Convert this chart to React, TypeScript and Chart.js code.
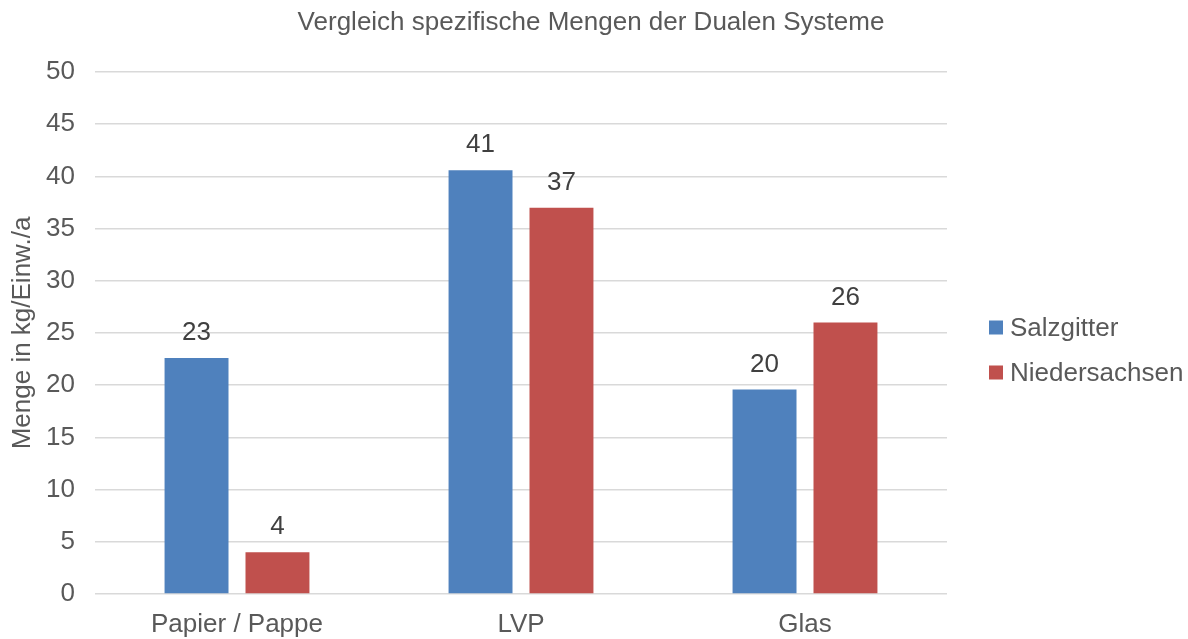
import React, { useEffect, useRef } from "react";
import { Chart, registerables } from "chart.js";

Chart.register(...registerables);

const titleText = "Vergleich spezifische Mengen der Dualen Systeme";
const categories = ["Papier / Pappe", "LVP", "Glas"];
const salzgitter = [22.6, 40.6, 19.6];
const niedersachsen = [4.0, 37.0, 26.0];
const yTicks = [0, 5, 10, 15, 20, 25, 30, 35, 40, 45, 50];

const FONT = "'Liberation Sans', Arial, sans-serif";

const dataLabelPlugin = {
  id: "dataLabels",
  afterDatasetsDraw(chart: any) {
    const ctx = chart.ctx;
    ctx.save();
    ctx.font = `26px ${FONT}`;
    ctx.fillStyle = "#404040";
    ctx.textAlign = "center";
    ctx.textBaseline = "middle";
    chart.data.datasets.forEach((ds: any, i: number) => {
      const meta = chart.getDatasetMeta(i);
      meta.data.forEach((bar: any, j: number) => {
        const v = ds.data[j] as number;
        ctx.fillText(String(Math.round(v)), bar.x, bar.y - 25);
      });
    });
    ctx.restore();
  },
};

const customLegendPlugin = {
  id: "customLegend",
  afterDraw(chart: any) {
    const ctx = chart.ctx;
    const area = chart.chartArea;
    // title across the full canvas width
    ctx.save();
    ctx.font = `26px ${FONT}`;
    ctx.fillStyle = "#595959";
    ctx.textAlign = "center";
    ctx.textBaseline = "middle";
    ctx.fillText(titleText, chart.width / 2 - 3, 23);
    // legend
    const boxX = area.right + 42;
    const textX = boxX + 21;
    const centerY = (area.top + area.bottom) / 2 + 17;
    const spacing = 45;
    const n = chart.data.datasets.length;
    ctx.textAlign = "left";
    chart.data.datasets.forEach((ds: any, i: number) => {
      const y = centerY + (i - (n - 1) / 2) * spacing;
      ctx.fillStyle = ds.backgroundColor;
      ctx.fillRect(boxX, y - 7, 14, 14);
      ctx.fillStyle = "#595959";
      ctx.fillText(ds.label, textX, y + 1);
    });
    ctx.restore();
  },
};

export default function App() {
  const ref = useRef<HTMLCanvasElement>(null);
  useEffect(() => {
    document.body.style.margin = "0";
    const chart = new Chart(ref.current!, {
      type: "bar",
      data: {
        labels: categories,
        datasets: [
          {
            label: "Salzgitter",
            data: salzgitter,
            backgroundColor: "#4F81BD",
            categoryPercentage: 0.57,
            barPercentage: 0.79,
          },
          {
            label: "Niedersachsen",
            data: niedersachsen,
            backgroundColor: "#C0504D",
            categoryPercentage: 0.57,
            barPercentage: 0.79,
          },
        ],
      },
      options: {
        animation: false,
        responsive: false,
        layout: { padding: { right: 241, left: 0, top: 72, bottom: 0 } },
        plugins: {
          title: { display: false },
          legend: { display: false },
          tooltip: { enabled: false },
        },
        scales: {
          x: {
            afterFit(scale: any) {
              scale.height = 45;
            },
            grid: { display: false, drawTicks: false },
            border: { display: false },
            ticks: {
              color: "#595959",
              font: { family: FONT, size: 26 },
              padding: 15,
            },
          },
          y: {
            min: 0,
            max: 50,
            afterBuildTicks(scale: any) {
              scale.ticks = yTicks.map((v) => ({ value: v }));
            },
            afterFit(scale: any) {
              scale.width = 95;
            },
            grid: { color: "#D9D9D9", lineWidth: 1.6, drawTicks: false },
            border: { display: false },
            ticks: {
              color: "#595959",
              font: { family: FONT, size: 26 },
              padding: 20,
            },
            title: {
              display: true,
              text: "Menge in kg/Einw./a",
              color: "#595959",
              font: { family: FONT, size: 26 },
              padding: { top: 7, bottom: 4 },
            },
          },
        },
      },
      plugins: [dataLabelPlugin, customLegendPlugin],
    });
    return () => chart.destroy();
  }, []);
  return (
    <div style={{ width: 1188, height: 639 }}>
      <canvas ref={ref} width={1188} height={639} style={{ display: "block" }} />
    </div>
  );
}
